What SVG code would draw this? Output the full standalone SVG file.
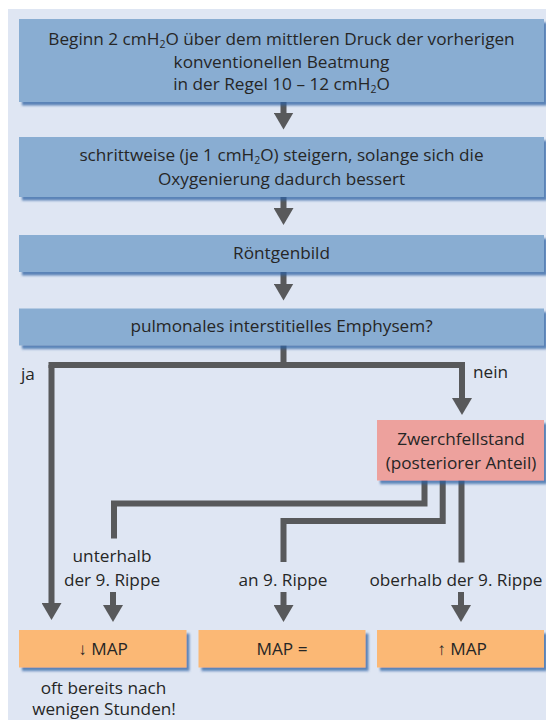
<svg xmlns="http://www.w3.org/2000/svg" width="546" height="720" viewBox="0 0 546 720">
<defs>
<filter id="sh" x="-5%" y="-20%" width="115%" height="160%">
<feDropShadow dx="3" dy="3.5" stdDeviation="1.3" flood-color="#2f62a3" flood-opacity="0.75"/>
</filter>
<marker id="ah" markerUnits="userSpaceOnUse" viewBox="0 0 17 20" markerWidth="17" markerHeight="20" refX="0.5" refY="10" orient="auto">
<path d="M0,0 L17,10 L0,20 Z" fill="#58595b"/>
</marker>
<style>
.t{font-family:"Open Sans","Noto Sans","Liberation Sans",sans-serif;font-size:17.2px;fill:#262626;text-anchor:middle}
.c{fill:none;stroke:#58595b;stroke-width:6;stroke-linejoin:miter}
.a{marker-end:url(#ah)}
.blue{fill:#89add2;filter:url(#sh)}
.pink{fill:#eda19d;filter:url(#sh)}
.orange{fill:#fbb874;filter:url(#sh)}
.sub{font-size:10.5px}
</style>
</defs>
<rect x="0" y="0" width="546" height="720" fill="#ffffff"/>
<rect x="8" y="9" width="538" height="711" fill="#dfe6f3"/>

<g id="connectors">
<path class="c a" d="M283.5,102 V113"/>
<path class="c a" d="M283.5,197 V208.5"/>
<path class="c a" d="M283.5,272 V284"/>
<path class="c" d="M283.5,345 V365"/>
<path class="c a" d="M51.5,365 V603.5"/>
<path class="c a" d="M48.5,365 H462 V398.5"/>
<path class="c" d="M424.5,480 V503.5 H114 V538.5"/>
<path class="c" d="M442.7,480 V521 H283.5 V562"/>
<path class="c" d="M461.5,480 V562.5"/>
<path class="c a" d="M113,592 V605.5"/>
<path class="c a" d="M283.5,592 V605.5"/>
<path class="c a" d="M461,592 V605.5"/>
</g>

<g id="n1">
<rect class="blue" x="19" y="19" width="525" height="83"/>
<text class="t" x="281.5" y="44.5">Beginn 2 cmH<tspan class="sub" dy="3">2</tspan><tspan dy="-3">O über dem mittleren Druck der vorherigen</tspan></text>
<text class="t" x="281.5" y="67.5">konventionellen Beatmung</text>
<text class="t" x="281.5" y="89.5">in der Regel 10 – 12 cmH<tspan class="sub" dy="3">2</tspan><tspan dy="-3">O</tspan></text>
</g>

<g id="n2">
<rect class="blue" x="19" y="137" width="525" height="60"/>
<text class="t" x="281.5" y="161">schrittweise (je 1 cmH<tspan class="sub" dy="3">2</tspan><tspan dy="-3">O) steigern, solange sich die</tspan></text>
<text class="t" x="281.5" y="185">Oxygenierung dadurch bessert</text>
</g>

<g id="n3">
<rect class="blue" x="19" y="235" width="525" height="37"/>
<text class="t" x="281.5" y="259">Röntgenbild</text>
</g>

<g id="n4">
<rect class="blue" x="19" y="308.5" width="525" height="37"/>
<text class="t" x="281.5" y="332">pulmonales interstitielles Emphysem?</text>
</g>

<g id="lbl-ja"><text class="t" x="21" y="380" style="text-anchor:start">ja</text></g>
<g id="lbl-nein"><text class="t" x="473" y="377.5" style="text-anchor:start">nein</text></g>

<g id="n5">
<rect class="pink" x="377" y="420" width="167" height="60.5"/>
<text class="t" x="461" y="445">Zwerchfellstand</text>
<text class="t" x="461" y="468.5">(posteriorer Anteil)</text>
</g>

<g id="lbl-unter">
<text class="t" x="112" y="561.5">unterhalb</text>
<text class="t" x="112" y="586">der 9. Rippe</text>
</g>
<g id="lbl-an"><text class="t" x="283" y="586">an 9. Rippe</text></g>
<g id="lbl-ober"><text class="t" x="456" y="586">oberhalb der 9. Rippe</text></g>

<g id="n6">
<rect class="orange" x="19" y="630" width="167.5" height="37.5"/>
<text class="t" x="103" y="655">↓ MAP</text>
</g>
<g id="n7">
<rect class="orange" x="198.5" y="630" width="167" height="37.5"/>
<text class="t" x="282" y="655">MAP =</text>
</g>
<g id="n8">
<rect class="orange" x="377" y="630" width="167" height="37.5"/>
<text class="t" x="462" y="655">↑ MAP</text>
</g>

<g id="note">
<text class="t" x="103.5" y="693.5">oft bereits nach</text>
<text class="t" x="104" y="715">wenigen Stunden!</text>
</g>
</svg>
